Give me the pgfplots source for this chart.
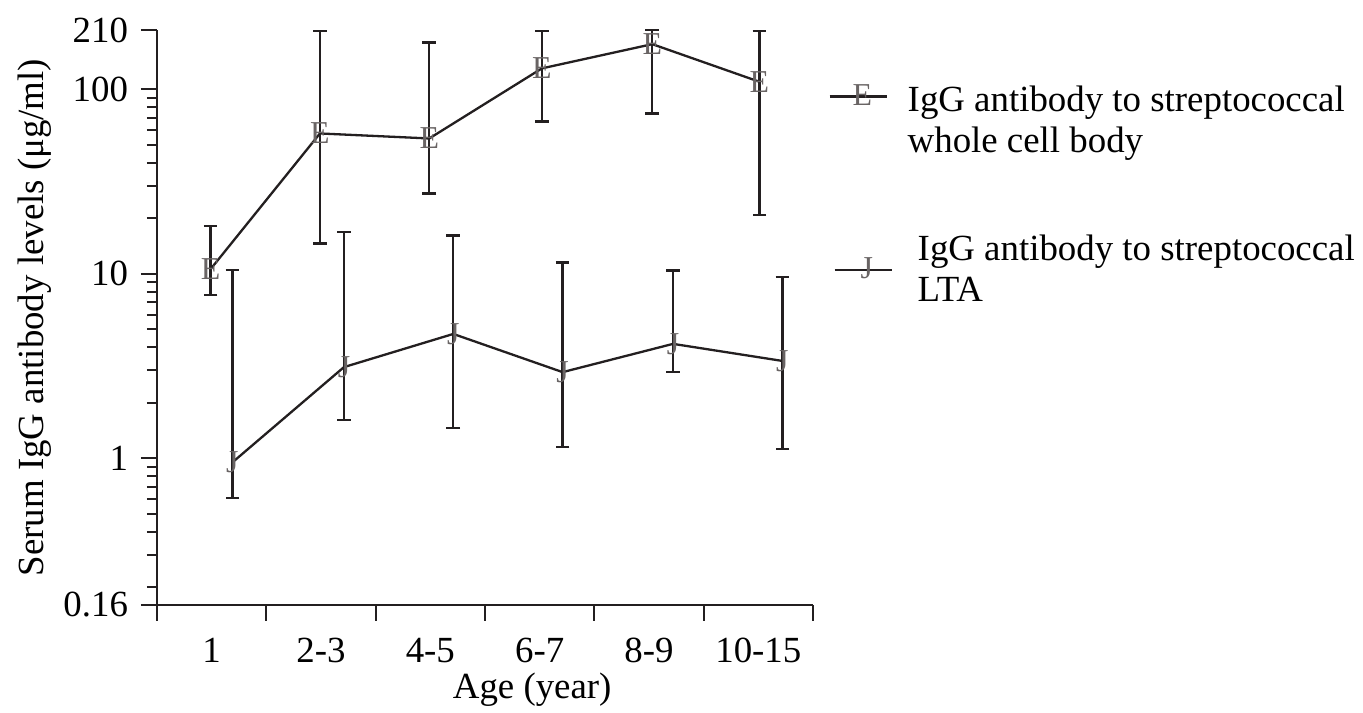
\documentclass[border=0pt]{standalone}
\usepackage{fontspec}
\setmainfont{Liberation Serif}
\usepackage{pgfplots}
\pgfplotsset{compat=1.18}
\usepackage{pgfplotstable}
\definecolor{ink}{RGB}{35,31,32}
\definecolor{markgray}{RGB}{105,100,100}

% age group position, mean, error up, error down
\pgfplotstableread{
x    y     ep     em
0.49 10.6  7.6    2.9
1.49 57.7  149.3  43.1
2.49 54.2  125.8  27.0
3.52 130   77     63
4.53 176   34     102
5.51 110   97     89.1
}\wholecell

\pgfplotstableread{
x    y     ep     em
0.69 0.95  9.55   0.34
1.71 3.12  13.78  1.51
2.71 4.72  11.38  3.26
3.71 2.93  8.57   1.78
4.72 4.17  6.23   1.24
5.72 3.37  6.23   2.25
}\lta

\pgfplotsset{
  legE/.style={legend image code/.code={%
    \draw[mark repeat=2,mark phase=2,##1] plot coordinates {(0bp,12bp) (11bp,12bp) (28.5bp,12bp)};}},
  legJ/.style={legend image code/.code={%
    \draw[mark repeat=2,mark phase=2,##1] plot coordinates {(2.5bp,0bp) (15bp,0bp) (31bp,0bp)};}},
}

\begin{document}
\begin{tikzpicture}
\begin{axis}[
  scale only axis, width=328bp, height=287.5bp,
  font=\fontsize{18.5}{20.5}\selectfont,
  ymode=log, ymin=0.16, ymax=210,
  xmin=0, xmax=6,
  axis x line*=bottom, axis y line*=left,
  axis line style={ink, line width=1.3bp, -},
  xtick={0,...,6}, x tick label as interval,
  xticklabels={1,2-3,4-5,6-7,8-9,10-15},
  xticklabel style={yshift=-5bp},
  ytick={0.16,1,10,100,210}, yticklabels={0.16,1,10,100,210},
  yticklabel style={xshift=-3bp},
  minor ytick={0.2,0.3,0.4,0.5,0.6,0.7,0.8,0.9,2,3,4,5,6,7,8,9,20,30,40,50,60,70,80,90},
  tick align=outside, major tick length=8bp, minor tick length=5bp,
  tick style={ink, line width=1bp},
  every axis y label/.style={at={(axis description cs:-0.186,0.5)}, rotate=90, anchor=center},
  every axis x label/.style={at={(axis description cs:0.572,-0.147)}, anchor=center},
  ylabel={Serum IgG antibody levels (μg/ml)},
  xlabel={Age (year)},
  legend cell align=left,
  legend style={at={(axis description cs:1.0229,0.906)}, anchor=north west,
    draw=none, fill=none, inner sep=0pt, row sep=40bp, column sep=7.5bp,
    nodes={align=left, inner sep=0pt}},
  clip=false,
]

\addplot[ink, line width=1.15bp, legE,
  mark=text, text mark={E}, text mark as node=true,
  text mark style={font=\fontsize{16}{16}\selectfont, text=markgray, inner sep=0pt},
  error bars/.cd, y dir=both, y explicit, error mark=-,
  error bar style={ink, line width=1.2bp},
  error mark options={ink, rotate=90, mark size=3.4bp, line width=1.2bp}]
  table[x=x, y=y, y error plus=ep, y error minus=em] {\wholecell};
\addlegendentry{IgG antibody to streptococcal\\whole cell body}

\addplot[ink, line width=1.15bp, legJ,
  mark=text, text mark={J}, text mark as node=true,
  text mark style={font=\fontsize{16}{16}\selectfont, text=markgray, inner sep=0pt},
  error bars/.cd, y dir=both, y explicit, error mark=-,
  error bar style={ink, line width=1.2bp},
  error mark options={ink, rotate=90, mark size=3.4bp, line width=1.2bp}]
  table[x=x, y=y, y error plus=ep, y error minus=em] {\lta};
\addlegendentry{\hspace*{5bp}IgG antibody to streptococcal\\\hspace*{5bp}LTA}

\end{axis}
\path (current axis.south west) ++(-78.5bp,-53.5bp);
\path (current axis.north east) ++(275bp,15bp);
\end{tikzpicture}
\end{document}
